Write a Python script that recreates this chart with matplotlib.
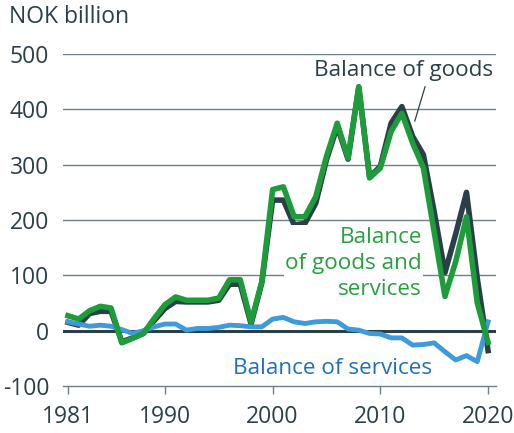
"""
Norway trade balance chart, 1981-2020, NOK billion
"""

import matplotlib
matplotlib.use('Agg')
import matplotlib.pyplot as plt, numpy as np

plt.rcParams['font.family'] = ['Open Sans', 'DejaVu Sans']

years = np.arange(1981, 2021)

# Balance of goods (dark)
goods = [15, 10, 31, 35, 35, -20, -13, -5, 18, 40,
         53, 52, 52, 52, 55, 84, 84, 12, 87, 236,
         236, 191, 194, 230, 309, 369, 310, 440, 278, 297,
         375, 405, 351, 318, 215, 105, 175, 250, 95, -36]

# Balance of goods and services (green)
goods_services = [27, 21, 36, 44, 41, -22, -14, -5, 22, 47,
                  61, 55, 55, 55, 59, 92, 92, 16, 89, 255,
                  260, 206, 206, 242, 315, 375, 312, 441, 276, 294,
                  360, 393, 339, 294, 178, 62, 125, 206, 50, -21]

# Balance of services (blue)
services = [16, 12, 8, 10, 8, 2, -5, 0, 7, 12,
            12, 1, 4, 4, 6, 10, 9, 7, 7, 21,
            24, 16, 13, 16, 17, 16, 3, 1, -5, -6,
            -13, -13, -26, -25, -22, -38, -53, -45, -56, 16]

yticks = [-100, 0, 100, 200, 300, 400, 500]
xticks = [1981, 1990, 2000, 2010, 2020]

dark = '#2b3f48'
green = '#1f9c3a'
green_text = '#27a040'
blue = '#3e9bdb'
blue_text = '#1f70b8'
grid = '#6f7f86'

fig = plt.figure(figsize=(5.14, 4.33), dpi=100)
ax = fig.add_axes([0.1226, 0.1085, 0.8424, 0.7667])

# Gridlines
for v in yticks[1:]:
    if v == 0:
        ax.axhline(v, color=dark, lw=2.2, zorder=1)
    else:
        ax.axhline(v, color=grid, lw=1.0, zorder=1)

ax.plot(years, goods, color=dark, lw=4.0, solid_joinstyle='round', zorder=3)
ax.plot(years, services, color=blue, lw=3.5, solid_joinstyle='round', zorder=4)
ax.plot(years, goods_services, color=green, lw=4.0, solid_joinstyle='round', zorder=5)

ax.set_xlim(1980.54, 2020.74)
ax.set_ylim(-100, 500)

for s in ['top', 'right', 'left']:
    ax.spines[s].set_visible(False)
ax.spines['bottom'].set_color(grid)
ax.spines['bottom'].set_linewidth(1.0)

ax.set_yticks(yticks)
ax.set_yticklabels([str(v) for v in yticks])
ax.set_xticks(xticks)
ax.tick_params(axis='y', length=0, pad=10, labelsize=16.5, labelcolor=dark)
ax.tick_params(axis='x', length=6, width=1, color=grid, pad=8, labelsize=16.5,
               labelcolor=dark)

fig.text(0.0175, 0.961, 'NOK billion', fontsize=16.5, color=dark,
         ha='left', va='center')

# Labels
ax.text(2020.46, 470, 'Balance of goods', fontsize=16.2, color=dark,
        ha='right', va='center', zorder=6)
ax.plot([2014.15, 2013.2], [440.7, 379], color=dark, lw=0.9, zorder=6)

ax.text(2013.87, 122, 'Balance\nof goods and\nservices', fontsize=16.2,
        color=green_text, ha='right', va='center', linespacing=1.32, zorder=6,
        bbox=dict(facecolor='white', edgecolor='none', pad=1))

ax.text(1996.3, -67.5, 'Balance of services', fontsize=16.2, color=blue_text,
        ha='left', va='center', zorder=6)

fig.savefig('out.png', dpi=100)
